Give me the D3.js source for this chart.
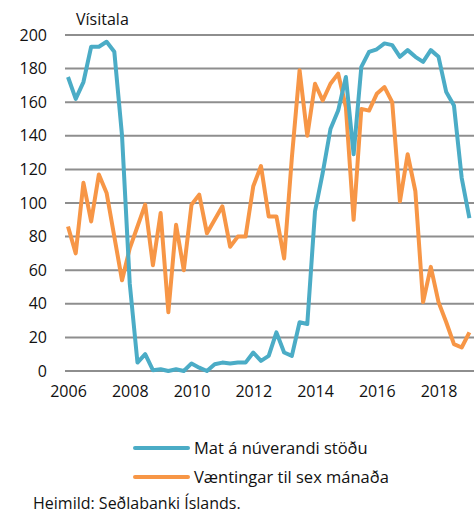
<!DOCTYPE html>
<html>
<head>
<meta charset="utf-8">
<script src="https://cdn.jsdelivr.net/npm/d3@7"></script>
<style>
  html, body { margin: 0; padding: 0; background: #fff; }
  svg { display: block; }
  text { font-family: "Open Sans", sans-serif; fill: #111; }
</style>
</head>
<body>
<svg id="chart" width="474" height="513"></svg>
<script>
// Quarterly data, 2006Q1 - 2019Q1
const startYear = 2006;
const seriesNames = ["Mat á núverandi stöðu", "Væntingar til sex mánaða"];
const currentSituation = [175,162,172,193,193,196,190,140,52,5,10,0.5,1,0,1,0,4.5,2,0,4,5,4.5,5,5,11,6,9,23,11,9,29,28,95,118,144,155,175,129,181,190,191.5,195,194,187,191,187,184,191,187,166,158,115,91];
const expectations = [86,70,112,89,117,106,80,54,73,86,99,63,94,35,87,60,99,105,82,90,98,74,80,80,110,122,92,92,67,127,179,140,171,161,171,177,157,90,156,155,165,169,160,101,129,107,41,62,41,29,16,14,23];
const yTicks = [0,20,40,60,80,100,120,140,160,180,200];
const xTicks = [2006,2008,2010,2012,2014,2016,2018];
const colors = ["#4bacc6", "#f79646"];
const yAxisTitle = "Vísitala";
const sourceNote = "Heimild: Seðlabanki Íslands.";

const svg = d3.select("#chart");
const x = d3.scaleLinear().domain([2006, 2019]).range([68, 469.4]);
const y = d3.scaleLinear().domain([0, 200]).range([371, 35]);

// gridlines
svg.append("g").selectAll("line").data(yTicks).join("line")
  .attr("x1", 65).attr("x2", 474)
  .attr("y1", d => y(d)).attr("y2", d => y(d))
  .attr("stroke", "#8e8e8e").attr("stroke-width", 2);

// y axis labels
const yAxis = d3.axisLeft(y).tickValues(yTicks).tickSize(0).tickPadding(0);
const gy = svg.append("g").attr("transform", "translate(47,0)").call(yAxis);
gy.select(".domain").remove();
gy.selectAll("text").attr("font-size", 16).attr("font-family", "Open Sans, sans-serif").attr("fill", "#111");

// x axis labels
const xAxis = d3.axisBottom(x).tickValues(xTicks).tickFormat(d3.format("d")).tickSize(0).tickPadding(0);
const gx = svg.append("g").attr("transform", "translate(0,386)").call(xAxis);
gx.select(".domain").remove();
gx.selectAll("text").attr("font-size", 16).attr("font-family", "Open Sans, sans-serif").attr("fill", "#111");

// title
svg.append("text").attr("x", 76).attr("y", 25).attr("font-size", 16).text(yAxisTitle);

// lines
const line = d3.line().x((d, i) => x(startYear + i * 0.25)).y(d => y(d));
[expectations, currentSituation].forEach((s, k) => {
  const idx = k === 0 ? 1 : 0;
  svg.append("path").datum(s).attr("d", line)
    .attr("fill", "none").attr("stroke", colors[idx]).attr("stroke-width", 4)
    .attr("stroke-linejoin", "round");
});

// legend
const legendY = [448, 477];
seriesNames.forEach((n, i) => {
  svg.append("line").attr("x1", 135).attr("x2", 188).attr("y1", legendY[i]).attr("y2", legendY[i])
    .attr("stroke", colors[i]).attr("stroke-width", 4).attr("stroke-linecap", "round");
  svg.append("text").attr("x", 194).attr("y", legendY[i]).attr("dy", "0.35em").attr("font-size", 16.5).text(n);
});

svg.append("text").attr("x", 33).attr("y", 509).attr("font-size", 16).text(sourceNote);
</script>
</body>
</html>
